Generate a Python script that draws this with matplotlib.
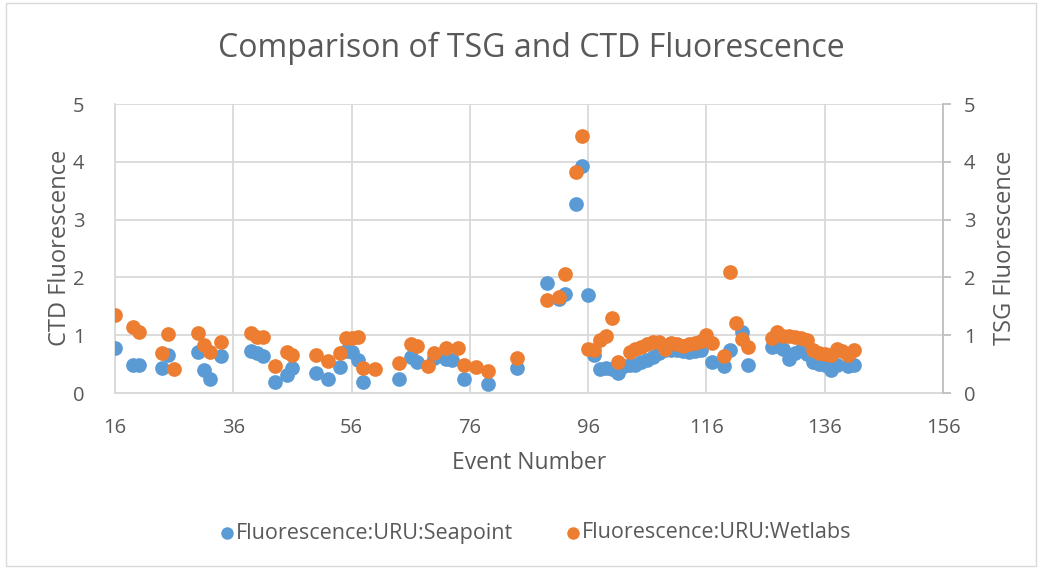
import numpy as np
import matplotlib.pyplot as plt
from matplotlib.patches import Rectangle

plt.rcParams['font.family'] = ['Open Sans', 'DejaVu Sans']

# Seapoint (CTD, primary axis)
sea_event = [16, 19, 20, 24, 25, 30, 31, 32, 34, 39, 40, 41, 43, 45, 46, 50, 52, 54, 55, 56,
             57, 58, 64, 66, 67, 70, 72, 73, 75, 79, 84, 89, 91, 92, 94, 95, 96, 97, 98, 99,
             100, 101, 102, 103, 104, 105, 106, 107, 108, 109, 110, 111, 112, 113, 114, 115,
             117, 119, 120, 122, 123, 127, 128, 129, 130, 131, 132, 133, 134, 135, 136, 137,
             138, 140, 141]
sea_val = [0.78, 0.48, 0.48, 0.43, 0.66, 0.71, 0.40, 0.24, 0.64, 0.72, 0.69, 0.64, 0.19, 0.31,
           0.44, 0.34, 0.24, 0.45, 0.72, 0.71, 0.57, 0.19, 0.24, 0.62, 0.53, 0.60, 0.59, 0.57,
           0.24, 0.16, 0.43, 1.91, 1.62, 1.71, 3.27, 3.92, 1.70, 0.66, 0.41, 0.43, 0.42, 0.34,
           0.46, 0.48, 0.49, 0.53, 0.57, 0.63, 0.69, 0.74, 0.75, 0.74, 0.73, 0.71, 0.73, 0.74,
           0.54, 0.46, 0.74, 1.06, 0.48, 0.80, 0.82, 0.77, 0.58, 0.70, 0.74, 0.68, 0.54, 0.50,
           0.48, 0.40, 0.48, 0.46, 0.48]

# Wetlabs (TSG, secondary axis)
wet_event = [16, 19, 20, 24, 25, 26, 30, 31, 32, 34, 39, 40, 41, 43, 45, 46, 50, 52, 54, 55,
             56, 57, 58, 60, 64, 66, 67, 69, 70, 72, 74, 75, 77, 79, 84, 89, 91, 92, 94, 95,
             96, 97, 98, 99, 100, 101, 103, 104, 105, 106, 107, 108, 109, 110, 111, 112, 113,
             114, 115, 116, 117, 119, 120, 121, 122, 123, 127, 128, 129, 130, 131, 132, 133,
             134, 135, 136, 137, 138, 139, 140, 141]
wet_val = [1.35, 1.14, 1.06, 0.69, 1.02, 0.42, 1.03, 0.83, 0.71, 0.89, 1.03, 0.97, 0.97, 0.47,
           0.71, 0.65, 0.66, 0.55, 0.69, 0.96, 0.96, 0.97, 0.43, 0.41, 0.52, 0.85, 0.81, 0.47,
           0.69, 0.78, 0.78, 0.48, 0.45, 0.38, 0.61, 1.61, 1.66, 2.06, 3.83, 4.45, 0.76, 0.74,
           0.92, 0.99, 1.29, 0.54, 0.71, 0.76, 0.80, 0.85, 0.89, 0.89, 0.76, 0.86, 0.85, 0.81,
           0.84, 0.86, 0.90, 1.00, 0.86, 0.64, 2.10, 1.21, 0.93, 0.80, 0.96, 1.06, 0.99, 0.99,
           0.97, 0.96, 0.92, 0.74, 0.70, 0.67, 0.66, 0.77, 0.72, 0.66, 0.74]

blue = '#5B9BD5'
orange = '#ED7D31'
grid = '#D9D9D9'
txt = '#595959'

fig = plt.figure(figsize=(10.41, 5.69), dpi=100)
ax = fig.add_axes([0.1105, 0.3093, 0.7954, 0.5079])
ax2 = ax.twinx()

ax.scatter(sea_event, sea_val, s=112, color=blue, linewidths=0, zorder=3,
           label='Fluorescence:URU:Seapoint')
ax2.scatter(wet_event, wet_val, s=112, color=orange, linewidths=0, zorder=3,
            label='Fluorescence:URU:Wetlabs')

for a in (ax, ax2):
    a.set_xlim(16, 156)
    a.set_ylim(0, 5)
    a.set_yticks(np.arange(0, 6, 1))
    for s in a.spines.values():
        s.set_visible(False)

ax.set_xticks(np.arange(16, 157, 20))
ax.grid(True, color=grid, linewidth=1.3)
ax.set_axisbelow(True)
for side in ('left', 'bottom'):
    ax.spines[side].set_visible(True)
    ax.spines[side].set_color(grid)
    ax.spines[side].set_linewidth(1.3)
ax.tick_params(axis='both', length=0, labelsize=14.5, colors=txt)
ax.tick_params(axis='x', pad=18)
ax.tick_params(axis='y', pad=22)

ax2.spines['right'].set_visible(True)
ax2.spines['right'].set_color('#BFBFBF')
ax2.spines['right'].set_linewidth(1.3)
ax2.tick_params(axis='y', length=6, width=1.3, color='#BFBFBF', labelsize=14.5,
                labelcolor=txt, pad=9)

fig.text(60 / 1041, 1 - 248 / 569, 'CTD Fluorescence', rotation=90, ha='center', va='center',
         fontsize=17, color=txt)
fig.text(1005 / 1041, 1 - 248 / 569, 'TSG Fluorescence', rotation=90, ha='center',
         va='center', fontsize=17, color=txt)
fig.text(529 / 1041, 1 - 463 / 569, 'Event Number', ha='center', va='center',
         fontsize=16.5, color=txt)
fig.text(531 / 1041, 1 - 48 / 569, 'Comparison of TSG and CTD Fluorescence', ha='center',
         va='center', fontsize=23, color=txt)

h1, l1 = ax.get_legend_handles_labels()
h2, l2 = ax2.get_legend_handles_labels()
fig.legend(h1 + h2, l1 + l2, loc='center', bbox_to_anchor=(536 / 1041, 1 - 533 / 569), ncol=2,
           frameon=False, fontsize=15.5, labelcolor=txt, handlelength=0.6,
           handletextpad=0.15, columnspacing=2.45, markerscale=0.85)

fig.patches.append(Rectangle((0.006, 0.005), 0.989, 0.99, transform=fig.transFigure,
                             fill=False, edgecolor=grid, linewidth=1))

fig.savefig('out.png', dpi=100)
